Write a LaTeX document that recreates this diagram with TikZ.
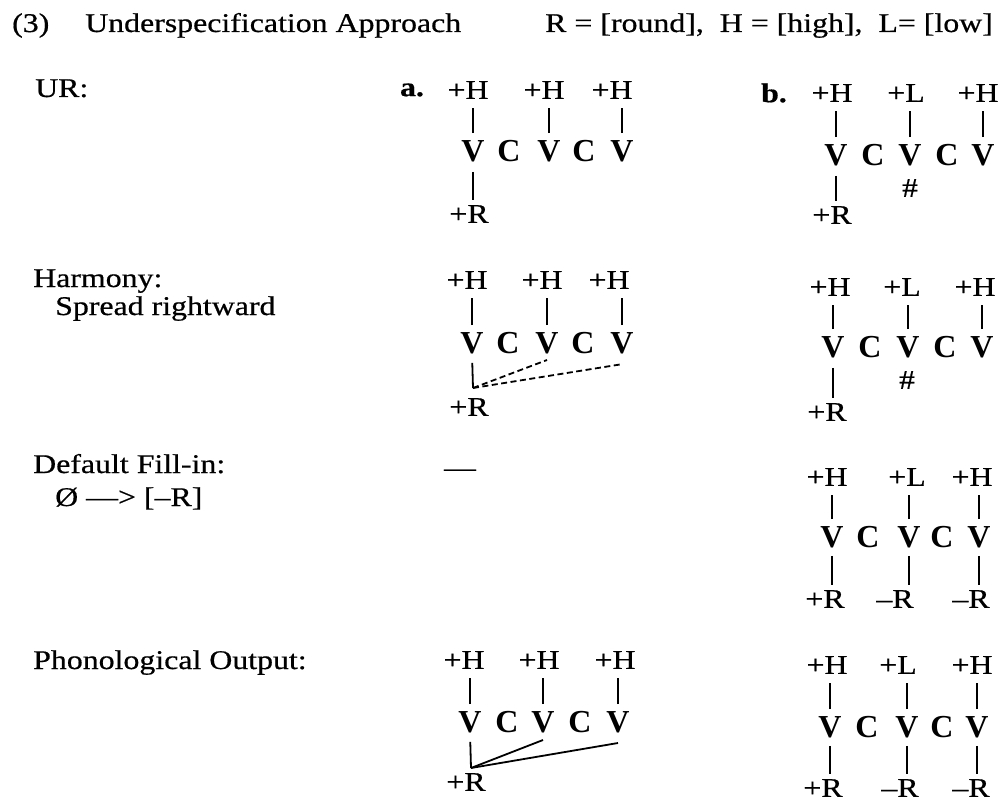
\documentclass[tikz,border=0pt]{standalone}
\usepackage{fontspec}
\setmainfont{Liberation Serif}[FakeStretch=1.18, FakeBold=0.6]
\newfontfamily\segfont{Liberation Serif}
\usetikzlibrary{positioning}

\tikzset{
  lbl/.style={inner sep=0pt, anchor=base west, font=\fontsize{27}{30}\selectfont},
  feat/.style={inner sep=0pt, font=\fontsize{27}{30}\selectfont},
  seg/.style={inner sep=0pt, font=\segfont\bfseries\fontsize{32}{34}\selectfont},
  tag/.style={inner sep=0pt, font=\bfseries\fontsize{27}{30}\selectfont},
  assoc/.style={line width=1.8pt},
  spread/.style={line width=1.8pt, dash pattern=on 6pt off 3.5pt},
}

\begin{document}
\begin{tikzpicture}[x=1pt, y=-1pt]
  \useasboundingbox (0,0) rectangle (1003,802);

  % title line
  \node[lbl] (num) at (12,32) {(3)};
  \node[lbl] (title) at (85,32) {Underspecification Approach};
  \node[lbl] (key) at (545,32) {R = [round],\ \ H = [high],\ \ L= [low]};

  % left labels
  \node[lbl] (lUR) at (35,97) {UR:};
  \node[lbl] (lHarm) at (33,287) {Harmony:};
  \node[lbl] (lSpread) at (55,315) {Spread rightward};
  \node[lbl] (lFill) at (33,473) {Default Fill-in:};
  \node[lbl] (lRule) at (55,506) {Ø —> [–R]};
  \node[lbl] (lOut) at (33,669) {Phonological Output:};

  % a. UR
  \begin{scope}[shift={(473,151)}]
    \node[tag] (tagA) at (-61,-61) {a.};
    \foreach \s/\x [count=\i] in {V/0,C/36,V/76,C/111,V/149}
      \node[seg] (a1s\i) at (\x,0) {\s};
    \node[feat] (a1h1) at (-5,-61) {+H};
    \node[feat] (a1h3) at (71,-61) {+H};
    \node[feat] (a1h5) at (139,-61) {+H};
    \node[feat] (a1r) at (-4,63) {+R};
    \foreach \i in {1,3,5}
      \draw[assoc, shorten <=7pt, shorten >=9pt] (a1s\i.north) -- (a1s\i.north |- a1h\i.south);
    \draw[assoc, shorten <=10pt, shorten >=5pt] (a1s1.south) -- (a1s1.south |- a1r.north);
  \end{scope}

  % b. UR
  \begin{scope}[shift={(836,155)}]
    \node[tag] (tagB) at (-62,-62) {b.};
    \foreach \s/\x [count=\i] in {V/0,C/37,V/74,C/111,V/147}
      \node[seg] (b1s\i) at (\x,0) {\s};
    \node[feat] (b1h1) at (-4,-62) {+H};
    \node[feat] (b1h3) at (70,-62) {+L};
    \node[feat] (b1h5) at (142,-62) {+H};
    \node[feat] (b1x) at (74,33) {\#};
    \node[feat] (b1r) at (-4,60) {+R};
    \foreach \i in {1,3,5}
      \draw[assoc, shorten <=7pt, shorten >=9pt] (b1s\i.north) -- (b1s\i.north |- b1h\i.south);
    \draw[assoc, shorten <=10pt, shorten >=5pt] (b1s1.south) -- (b1s1.south |- b1r.north);
  \end{scope}

  % a. harmony, dashed spreading
  \begin{scope}[shift={(472,343)}]
    \foreach \s/\x [count=\i] in {V/0,C/36,V/75,C/111,V/150}
      \node[seg] (a2s\i) at (\x,0) {\s};
    \node[feat] (a2h1) at (-5,-63) {+H};
    \node[feat] (a2h3) at (70,-63) {+H};
    \node[feat] (a2h5) at (137,-63) {+H};
    \node[feat] (a2r) at (-3,64) {+R};
    \coordinate (a2j) at (1,45);
    \coordinate (a2e3) at (75,17);
    \coordinate (a2e5) at (151,21);
    \foreach \i in {1,3,5}
      \draw[assoc, shorten <=7pt, shorten >=9pt] (a2s\i.north) -- (a2s\i.north |- a2h\i.south);
    \draw[assoc, shorten <=9pt] (a2s1.south) -- (a2j);
    \draw[spread] (a2j) -- (a2e3);
    \draw[spread] (a2j) -- (a2e5);
  \end{scope}

  % b. harmony (blocked)
  \begin{scope}[shift={(833,347)}]
    \foreach \s/\x [count=\i] in {V/0,C/37,V/75,C/112,V/149}
      \node[seg] (b2s\i) at (\x,0) {\s};
    \node[feat] (b2h1) at (-3,-60) {+H};
    \node[feat] (b2h3) at (69,-60) {+L};
    \node[feat] (b2h5) at (142,-60) {+H};
    \node[feat] (b2x) at (74,33) {\#};
    \node[feat] (b2r) at (-6,65) {+R};
    \foreach \i in {1,3,5}
      \draw[assoc, shorten <=7pt, shorten >=9pt] (b2s\i.north) -- (b2s\i.north |- b2h\i.south);
    \draw[assoc, shorten <=10pt, shorten >=5pt] (b2s1.south) -- (b2s1.south |- b2r.north);
  \end{scope}

  % a. fill-in: nothing
  \node[feat] (a3none) at (460,473) {—};

  % b. fill-in
  \begin{scope}[shift={(832,537)}]
    \foreach \s/\x [count=\i] in {V/0,C/36,V/77,C/110,V/147}
      \node[seg] (b3s\i) at (\x,0) {\s};
    \node[feat] (b3h1) at (-5,-60) {+H};
    \node[feat] (b3h3) at (75,-60) {+L};
    \node[feat] (b3h5) at (140,-60) {+H};
    \node[feat] (b3r1) at (-7,62) {+R};
    \node[feat] (b3r3) at (63,62) {–R};
    \node[feat] (b3r5) at (139,62) {–R};
    \foreach \i in {1,3,5} {
      \draw[assoc, shorten <=7pt, shorten >=9pt] (b3s\i.north) -- (b3s\i.north |- b3h\i.south);
      \draw[assoc, shorten <=8pt, shorten >=5pt] (b3s\i.south) -- (b3s\i.south |- b3r\i.north);
    }
  \end{scope}

  % a. output, solid spreading
  \begin{scope}[shift={(470,722)}]
    \foreach \s/\x [count=\i] in {V/0,C/37,V/73,C/110,V/148}
      \node[seg] (a4s\i) at (\x,0) {\s};
    \node[feat] (a4h1) at (-6,-62) {+H};
    \node[feat] (a4h3) at (69,-62) {+H};
    \node[feat] (a4h5) at (145,-62) {+H};
    \node[feat] (a4r) at (-4,60) {+R};
    \coordinate (a4j) at (1,46);
    \coordinate (a4e3) at (73,18);
    \coordinate (a4e5) at (148,21);
    \foreach \i in {1,3,5}
      \draw[assoc, shorten <=7pt, shorten >=9pt] (a4s\i.north) -- (a4s\i.north |- a4h\i.south);
    \draw[assoc, shorten <=9pt] (a4s1.south) -- (a4j);
    \draw[assoc] (a4j) -- (a4e3);
    \draw[assoc] (a4j) -- (a4e5);
  \end{scope}

  % b. output
  \begin{scope}[shift={(830,727)}]
    \foreach \s/\x [count=\i] in {V/0,C/37,V/77,C/112,V/147}
      \node[seg] (b4s\i) at (\x,0) {\s};
    \node[feat] (b4h1) at (-3,-62) {+H};
    \node[feat] (b4h3) at (68,-62) {+L};
    \node[feat] (b4h5) at (142,-62) {+H};
    \node[feat] (b4r1) at (-7,61) {+R};
    \node[feat] (b4r3) at (70,61) {–R};
    \node[feat] (b4r5) at (141,61) {–R};
    \foreach \i in {1,3,5} {
      \draw[assoc, shorten <=7pt, shorten >=9pt] (b4s\i.north) -- (b4s\i.north |- b4h\i.south);
      \draw[assoc, shorten <=8pt, shorten >=5pt] (b4s\i.south) -- (b4s\i.south |- b4r\i.north);
    }
  \end{scope}
\end{tikzpicture}
\end{document}
